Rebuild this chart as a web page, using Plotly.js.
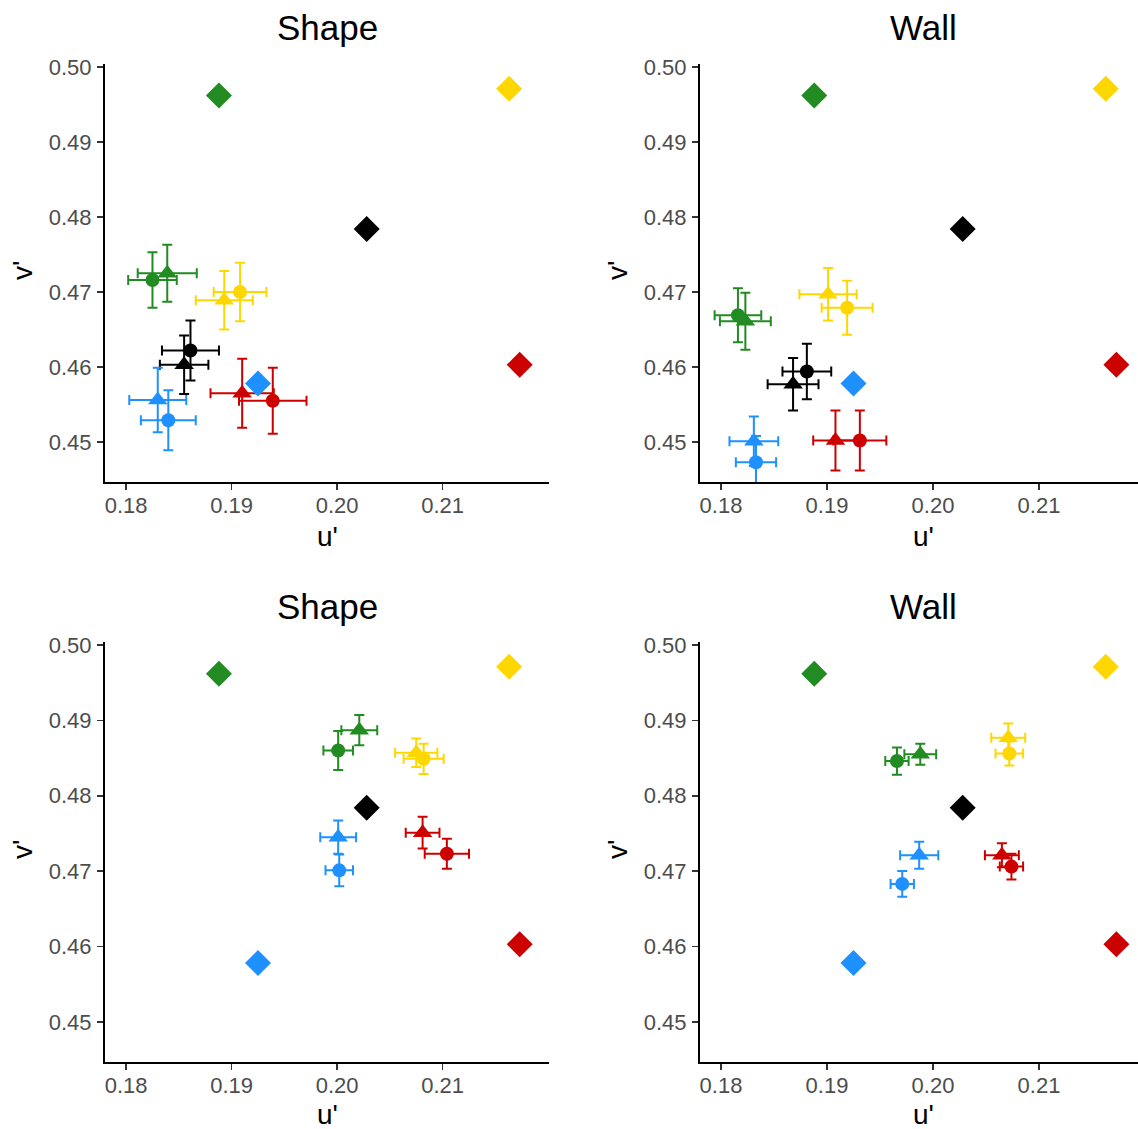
<!DOCTYPE html>
<html>
<head>
<meta charset="utf-8">
<script src="https://cdn.plot.ly/plotly-3.0.1.min.js"></script>
<style>
html,body{margin:0;padding:0;background:#fff;overflow:hidden;}
#chart{width:1138px;height:1129px;}
</style>
</head>
<body>
<div id="chart"></div>
<script>
// ---- categories ----
const categories = ["green", "yellow", "black", "red", "blue"];
const panelTitles = ["Shape", "Wall", "Shape", "Wall"];
const xTickVals = [0.18, 0.19, 0.20, 0.21];
const xTickText = ["0.18", "0.19", "0.20", "0.21"];
const yTickVals = [0.45, 0.46, 0.47, 0.48, 0.49, 0.50];
const yTickText = ["0.45", "0.46", "0.47", "0.48", "0.49", "0.50"];

// ---- reference diamonds (same in every panel) ----
const refU = [0.1888, 0.2163, 0.2028, 0.2173, 0.1925];
const refV = [0.4962, 0.4971, 0.4784, 0.4603, 0.4578];

// ---- top-left: Shape ----
const tsCircU  = [0.1825, 0.1908, 0.1861, 0.1939, 0.1840];
const tsCircV  = [0.4716, 0.4700, 0.4622, 0.4555, 0.4529];
const tsCircEu = [0.0023, 0.0025, 0.0027, 0.0032, 0.0026];
const tsCircEv = [0.0037, 0.0039, 0.0040, 0.0044, 0.0040];
const tsTriU   = [0.1839, 0.1893, 0.1855, 0.1910, 0.1830];
const tsTriV   = [0.4725, 0.4689, 0.4603, 0.4565, 0.4556];
const tsTriEu  = [0.0028, 0.0027, 0.0023, 0.0030, 0.0027];
const tsTriEv  = [0.0038, 0.0039, 0.0039, 0.0046, 0.0043];

// ---- top-right: Wall ----
const twCircU  = [0.1816, 0.1919, 0.1881, 0.1931, 0.1833];
const twCircV  = [0.4669, 0.4679, 0.4594, 0.4502, 0.4473];
const twCircEu = [0.0022, 0.0024, 0.0023, 0.0025, 0.0019];
const twCircEv = [0.0036, 0.0036, 0.0037, 0.0040, 0.0035];
const twTriU   = [0.1823, 0.1901, 0.1868, 0.1908, 0.1831];
const twTriV   = [0.4661, 0.4697, 0.4577, 0.4502, 0.4501];
const twTriEu  = [0.0024, 0.0027, 0.0024, 0.0021, 0.0023];
const twTriEv  = [0.0038, 0.0035, 0.0035, 0.0040, 0.0033];

// ---- bottom-left: Shape ----
const bsCircU  = [0.2001, 0.2082, null, 0.2104, 0.2002];
const bsCircV  = [0.4860, 0.4849, null, 0.4723, 0.4701];
const bsCircEu = [0.0014, 0.0019, null, 0.0021, 0.0013];
const bsCircEv = [0.0026, 0.0020, null, 0.0020, 0.0021];
const bsTriU   = [0.2021, 0.2075, null, 0.2081, 0.2001];
const bsTriV   = [0.4887, 0.4857, null, 0.4751, 0.4745];
const bsTriEu  = [0.0017, 0.0020, null, 0.0016, 0.0017];
const bsTriEv  = [0.0020, 0.0019, null, 0.0021, 0.0022];

// ---- bottom-right: Wall ----
const bwCircU  = [0.1966, 0.2072, null, 0.2074, 0.1971];
const bwCircV  = [0.4846, 0.4856, null, 0.4706, 0.4683];
const bwCircEu = [0.0011, 0.0013, null, 0.0011, 0.0011];
const bwCircEv = [0.0018, 0.0016, null, 0.0017, 0.0017];
const bwTriU   = [0.1988, 0.2071, null, 0.2065, 0.1987];
const bwTriV   = [0.4855, 0.4877, null, 0.4721, 0.4721];
const bwTriEu  = [0.0015, 0.0016, null, 0.0016, 0.0018];
const bwTriEv  = [0.0014, 0.0019, null, 0.0016, 0.0018];

// ---- styles ----
const colorMap = {green: "#228B22", yellow: "#FFD700", black: "#000000", red: "#CD0000", blue: "#1E90FF"};
const W = 1138, H = 1129;
const FONT = "Liberation Sans, Arial, sans-serif";

const panels = [
  {xa: "x",  ya: "y",  cu: tsCircU, cv: tsCircV, ceu: tsCircEu, cev: tsCircEv, tu: tsTriU, tv: tsTriV, teu: tsTriEu, tev: tsTriEv},
  {xa: "x2", ya: "y2", cu: twCircU, cv: twCircV, ceu: twCircEu, cev: twCircEv, tu: twTriU, tv: twTriV, teu: twTriEu, tev: twTriEv},
  {xa: "x3", ya: "y3", cu: bsCircU, cv: bsCircV, ceu: bsCircEu, cev: bsCircEv, tu: bsTriU, tv: bsTriV, teu: bsTriEu, tev: bsTriEv},
  {xa: "x4", ya: "y4", cu: bwCircU, cv: bwCircV, ceu: bwCircEu, cev: bwCircEv, tu: bwTriU, tv: bwTriV, teu: bwTriEu, tev: bwTriEv}
];

const traces = [];
function errTrace(p, u, v, eu, ev, i) {
  const c = colorMap[categories[i]];
  return {
    type: "scatter", mode: "markers", xaxis: p.xa, yaxis: p.ya,
    x: [u[i]], y: [v[i]], showlegend: false, hoverinfo: "skip",
    marker: {size: 1, opacity: 0},
    error_x: {type: "data", array: [eu[i]], visible: true, color: c, thickness: 2, width: 5},
    error_y: {type: "data", array: [ev[i]], visible: true, color: c, thickness: 2, width: 5}
  };
}
function markTrace(p, u, v, i, sym, size) {
  const c = colorMap[categories[i]];
  return {
    type: "scatter", mode: "markers", xaxis: p.xa, yaxis: p.ya,
    x: [u[i]], y: [v[i]], showlegend: false,
    marker: {symbol: sym, size: size, color: c, line: {width: 0}}
  };
}
panels.forEach(p => {
  for (let i = 0; i < categories.length; i++) {
    if (p.cu[i] !== null) traces.push(errTrace(p, p.cu, p.cv, p.ceu, p.cev, i));
    if (p.tu[i] !== null) traces.push(errTrace(p, p.tu, p.tv, p.teu, p.tev, i));
  }
  for (let i = 0; i < categories.length; i++) {
    if (p.cu[i] !== null) traces.push(markTrace(p, p.cu, p.cv, i, "circle", 14));
    if (p.tu[i] !== null) traces.push(markTrace(p, p.tu, p.tv, i, "triangle-up", 17));
  }
  traces.push({
    type: "scatter", mode: "markers", xaxis: p.xa, yaxis: p.ya,
    x: refU, y: refV, showlegend: false,
    marker: {symbol: "diamond", size: 20, color: categories.map(k => colorMap[k]), line: {width: 0}}
  });
});

// pixel -> paper helpers
const px = v => v / W;
const py = v => 1 - v / H;

function xAxis(dom, range, anchor) {
  return {
    domain: dom, range: range, anchor: anchor,
    tickvals: xTickVals, ticktext: xTickText,
    ticks: "outside", ticklen: 6, tickwidth: 1.6, tickcolor: "#333333",
    tickfont: {family: FONT, size: 22, color: "#4d4d4d"},
    ticklabelstandoff: -3,
    showline: true, linecolor: "#000000", linewidth: 2,
    showgrid: false, zeroline: false, mirror: false, fixedrange: true
  };
}
function yAxis(dom, range, anchor) {
  return {
    domain: dom, range: range, anchor: anchor,
    tickvals: yTickVals, ticktext: yTickText,
    ticks: "outside", ticklen: 6, tickwidth: 1.6, tickcolor: "#333333",
    tickfont: {family: FONT, size: 22, color: "#4d4d4d"},
    ticklabelstandoff: 1,
    showline: true, linecolor: "#000000", linewidth: 2,
    showgrid: false, zeroline: false, mirror: false, fixedrange: true
  };
}

const xrL = [0.17800, 0.22008];
const xrR = [0.17802, 0.21934];
const yr = [0.44467, 0.50040];
const dxL = [px(105), px(549)];
const dxR = [px(700), 1];
const dyT = [py(482), py(64)];
const dyB = [py(1062), py(642)];

const annotations = [];
const titlePos = [[327, 27], [923, 27], [327, 606], [923, 606]];
titlePos.forEach((tp, k) => {
  annotations.push({xref: "paper", yref: "paper", x: px(tp[0]), y: py(tp[1]), xanchor: "center", yanchor: "middle",
    text: panelTitles[k], showarrow: false, font: {family: FONT, size: 35, color: "#000000"}});
});
const uPos = [[327, 537], [923, 537], [327, 1114], [923, 1114]];
uPos.forEach(tp => {
  annotations.push({xref: "paper", yref: "paper", x: px(tp[0]), y: py(tp[1]), xanchor: "center", yanchor: "middle",
    text: "u'", showarrow: false, font: {family: FONT, size: 28, color: "#000000"}});
});
const vPos = [[22, 271], [617, 271], [22, 850], [617, 850]];
vPos.forEach(tp => {
  annotations.push({xref: "paper", yref: "paper", x: px(tp[0]), y: py(tp[1]), xanchor: "center", yanchor: "middle",
    text: "v'", textangle: -90, showarrow: false, font: {family: FONT, size: 28, color: "#000000"}});
});

const layout = {
  width: W, height: H,
  margin: {l: 0, r: 0, t: 0, b: 0, pad: 0},
  paper_bgcolor: "#ffffff", plot_bgcolor: "#ffffff",
  showlegend: false,
  font: {family: FONT},
  xaxis: xAxis(dxL, xrL, "y"),
  yaxis: yAxis(dyT, yr, "x"),
  xaxis2: xAxis(dxR, xrR, "y2"),
  yaxis2: yAxis(dyT, yr, "x2"),
  xaxis3: xAxis(dxL, xrL, "y3"),
  yaxis3: yAxis(dyB, yr, "x3"),
  xaxis4: xAxis(dxR, xrR, "y4"),
  yaxis4: yAxis(dyB, yr, "x4"),
  annotations: annotations
};

Plotly.newPlot("chart", traces, layout, {displayModeBar: false, staticPlot: true});
</script>
</body>
</html>
